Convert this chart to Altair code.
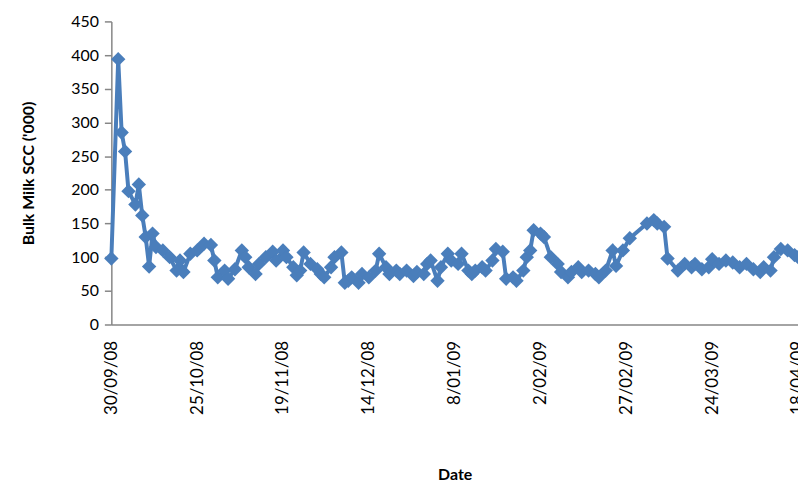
import altair as alt
import pandas as pd

# days after 30/09/08 at which samples were taken
day_offsets = [0, 2, 3, 4, 5, 7, 8, 9, 10, 11, 12, 13, 15, 17, 19, 20, 21, 23, 25, 27,
               29, 30, 31, 33, 34, 36, 38, 39, 40, 42, 43, 45, 47, 48, 50, 51, 53, 54, 55, 56,
               58, 60, 61, 62, 64, 65, 67, 68, 69, 70, 72, 73, 75, 77, 78, 80, 81, 83, 84, 86,
               88, 89, 91, 92, 93, 95, 96, 98, 99, 101, 102, 104, 105, 106, 108, 109, 111, 112, 114, 115,
               117, 118, 120, 121, 122, 123, 125, 126, 128, 130, 131, 133, 134, 136, 137, 139, 141, 142, 144, 146,
               147, 149, 151, 156, 158, 159, 161, 162, 165, 167, 169, 170, 172, 174, 175, 177, 179, 181, 183, 185,
               187, 189, 190, 192, 193, 195, 197, 199, 200]

scc = [98, 394, 285, 257, 198, 178, 208, 162, 130, 86, 135, 115, 110, 100, 80, 95, 78, 105, 110, 120,
       118, 95, 70, 80, 68, 82, 110, 100, 85, 75, 90, 100, 108, 95, 110, 100, 85, 73, 80, 107,
       90, 82, 75, 70, 85, 100, 107, 62, 65, 70, 62, 75, 70, 80, 105, 85, 75, 80, 75, 80,
       72, 78, 75, 90, 95, 65, 85, 105, 95, 90, 105, 80, 75, 80, 85, 80, 95, 112, 108, 68,
       70, 65, 80, 100, 110, 140, 135, 130, 100, 90, 78, 70, 78, 85, 78, 80, 75, 70, 80, 110,
       87, 110, 128, 150, 155, 150, 145, 98, 80, 90, 85, 90, 82, 85, 97, 90, 95, 92, 85, 90,
       82, 78, 85, 80, 100, 112, 110, 103, 100]

tick_offsets = [0, 25, 50, 75, 100, 125, 150, 175, 200]

start = pd.Timestamp("2008-09-30")
df = pd.DataFrame({
    "date": (start + pd.to_timedelta(day_offsets, unit="D")).strftime("%Y-%m-%d"),
    "scc": scc,
})

def dt(ts):
    return alt.DateTime(year=ts.year, month=ts.month, date=ts.day, utc=True)

tick_dates = [dt(start + pd.Timedelta(days=d)) for d in tick_offsets]
domain = [dt(start), dt(start + pd.Timedelta(days=200))]

blue = "#4a7ebb"
font = "Lato"

chart = alt.Chart(df).mark_line(
    color=blue, strokeWidth=4,
    point=alt.OverlayMarkDef(shape="diamond", size=210, filled=True, color=blue, opacity=1),
).encode(
    x=alt.X("date:T", title="Date",
            scale=alt.Scale(type="utc", domain=domain),
            axis=alt.Axis(values=tick_dates,
                          labelExpr="utcFormat(datum.value, '%-d/%m/%y')",
                          labelAngle=270, labelAlign="right", labelBaseline="middle",
                          labelPadding=16, ticks=False, grid=False,
                          domainColor="#868686", domainWidth=1.5,
                          labelFont=font, labelFontSize=17, labelColor="#000000",
                          titleFont=font, titleFontSize=16, titleFontWeight="bold",
                          titleColor="#000000", titlePadding=52, labelOverlap=False,
                          labelFlush=False, labelBound=False)),
    y=alt.Y("scc:Q", title="Bulk Milk SCC ('000)",
            scale=alt.Scale(domain=[0, 450]),
            axis=alt.Axis(values=list(range(0, 451, 50)), grid=False,
                          tickSize=7, tickColor="#868686", domainColor="#868686",
                          domainWidth=1.5, tickWidth=1.5,
                          labelFont=font, labelFontSize=16, labelColor="#000000",
                          labelPadding=6,
                          titleFont=font, titleFontSize=16, titleFontWeight="bold",
                          titleColor="#000000", titlePadding=34)),
).properties(
    width=691, height=305,
    autosize=alt.AutoSizeParams(type="none"),
    padding={"left": 104, "top": 12, "right": 0, "bottom": 158},
).configure_view(stroke=None)

chart.save("out.html", embed_options={"renderer": "svg", "actions": False})
